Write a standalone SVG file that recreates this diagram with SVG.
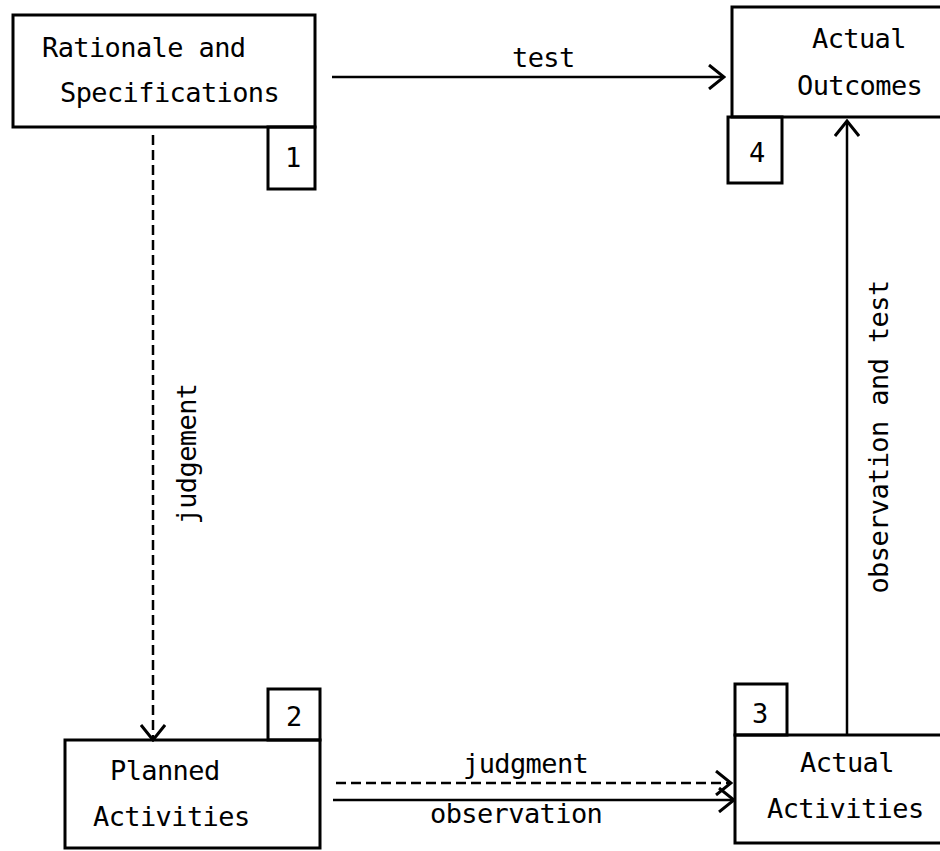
<svg xmlns="http://www.w3.org/2000/svg" width="940" height="851" viewBox="0 0 940 851">
<style>
.box{fill:none;stroke:#000;stroke-width:3}
.t{font-family:"DejaVu Sans Mono","Liberation Mono",monospace;font-size:27px;letter-spacing:-0.6px;fill:#000}
.c{fill:none;stroke:#000;stroke-width:2.5}
.d{stroke-dasharray:10 5}
</style>
<defs>
<marker id="ah" viewBox="0 0 18 26" refX="16" refY="13" markerWidth="18" markerHeight="26" markerUnits="userSpaceOnUse" orient="auto">
<path d="M1,1 L16,13 L1,25" fill="none" stroke="#000" stroke-width="3" stroke-dasharray="none"/>
</marker>
</defs>
<rect width="940" height="851" fill="#fff"/>
<g id="node1">
<rect class="box" x="13" y="15" width="302" height="112"/>
<rect class="box" x="268" y="127" width="47" height="62"/>
<text class="t" x="42" y="57">Rationale and</text>
<text class="t" x="60" y="102">Specifications</text>
<text class="t" x="285" y="167">1</text>
</g>
<g id="node4">
<rect class="box" x="732" y="7" width="230" height="110"/>
<rect class="box" x="728" y="117" width="54" height="66"/>
<text class="t" x="812" y="48">Actual</text>
<text class="t" x="797" y="95">Outcomes</text>
<text class="t" x="749" y="162">4</text>
</g>
<g id="node2">
<rect class="box" x="65" y="740" width="255" height="108"/>
<rect class="box" x="268" y="689" width="52" height="51"/>
<text class="t" x="110" y="780">Planned</text>
<text class="t" x="93" y="826">Activities</text>
<text class="t" x="286" y="726">2</text>
</g>
<g id="node3">
<rect class="box" x="735" y="735" width="230" height="108"/>
<rect class="box" x="735" y="684" width="52" height="51"/>
<text class="t" x="800" y="772">Actual</text>
<text class="t" x="767" y="818">Activities</text>
<text class="t" x="752" y="723">3</text>
</g>
<g id="connectors">
<line class="c" x1="332" y1="77" x2="724" y2="77" marker-end="url(#ah)"/>
<text class="t" x="512" y="67">test</text>
<line class="c d" x1="153" y1="135" x2="153" y2="740" marker-end="url(#ah)"/>
<text class="t" transform="translate(196,454) rotate(-90)" text-anchor="middle">judgement</text>
<line class="c" x1="847" y1="735" x2="847" y2="121" marker-end="url(#ah)"/>
<text class="t" transform="translate(888,437) rotate(-90)" text-anchor="middle">observation and test</text>
<line class="c d" x1="336" y1="783" x2="731" y2="783" marker-end="url(#ah)"/>
<text class="t" x="463" y="773">judgment</text>
<line class="c" x1="333" y1="800" x2="734" y2="800" marker-end="url(#ah)"/>
<text class="t" x="430" y="823">observation</text>
</g>
</svg>
